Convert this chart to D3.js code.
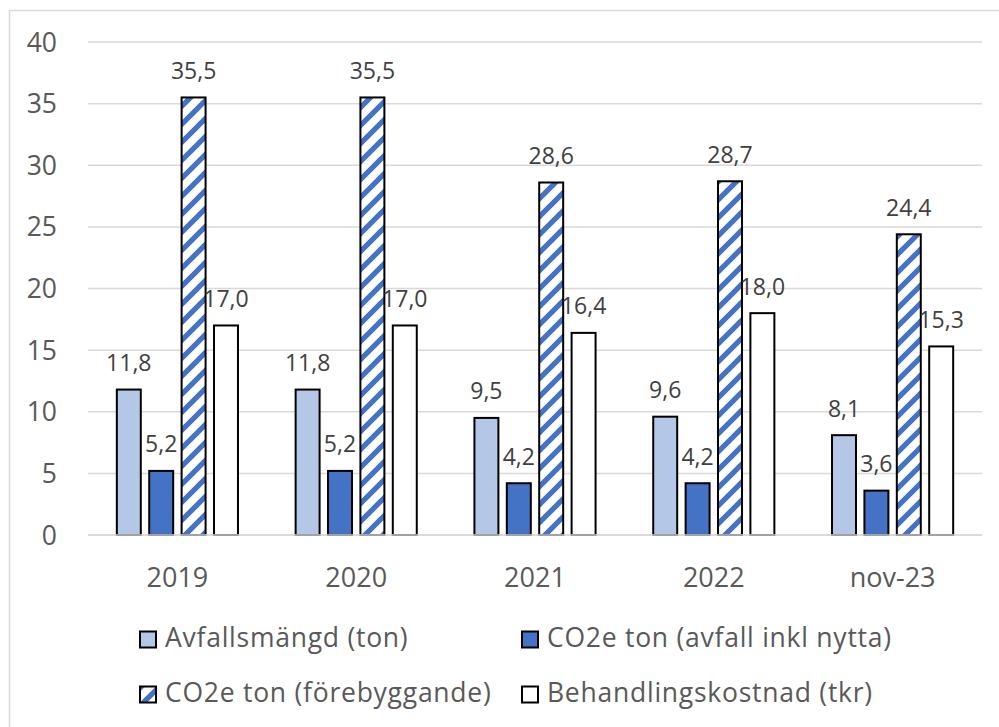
<!DOCTYPE html>
<html>
<head>
<meta charset="utf-8">
<script src="https://cdn.jsdelivr.net/npm/d3@7"></script>
<style>
  html, body { margin: 0; padding: 0; background: #fff; }
  svg { display: block; }
  text { font-family: "Open Sans", Lato, sans-serif; }
</style>
</head>
<body>
<div id="chart"></div>
<script>
const categories = ["2019", "2020", "2021", "2022", "nov-23"];
const seriesNames = ["Avfallsmängd (ton)", "CO2e ton (avfall inkl nytta)", "CO2e ton (förebyggande)", "Behandlingskostnad (tkr)"];
const avfallsmangd = [11.8, 11.8, 9.5, 9.6, 8.1];
const co2eAvfall = [5.2, 5.2, 4.2, 4.2, 3.6];
const co2eForebyggande = [35.5, 35.5, 28.6, 28.7, 24.4];
const behandlingskostnad = [17.0, 17.0, 16.4, 18.0, 15.3];
const yTicks = [0, 5, 10, 15, 20, 25, 30, 35, 40];

const seriesValues = [avfallsmangd, co2eAvfall, co2eForebyggande, behandlingskostnad];
const fills = ["#B4C7E7", "#4472C4", "url(#hatch)", "#FFFFFF"];

const W = 999, H = 727;
const svg = d3.select("#chart").append("svg").attr("width", W).attr("height", H);

const defs = svg.append("defs");
const pat = defs.append("pattern")
  .attr("id", "hatch").attr("patternUnits", "userSpaceOnUse")
  .attr("width", 18).attr("height", 18);
pat.append("rect").attr("width", 18).attr("height", 18).attr("fill", "#fff");
pat.append("path")
  .attr("d", "M-9,9 L9,-9 M0,18 L18,0 M9,27 L27,9")
  .attr("stroke", "#4472C4").attr("stroke-width", 5.2).attr("fill", "none");

// outer border
svg.append("rect").attr("x", 9.5).attr("y", 10.5).attr("width", W).attr("height", H)
  .attr("fill", "none").attr("stroke", "#d9d9d9").attr("stroke-width", 1.5);

const plotLeft = 88, plotRight = 982;
const y = d3.scaleLinear().domain([0, 40]).range([535, 42]);
const x0 = d3.scaleBand().domain(categories).range([plotLeft, plotRight]).paddingInner(0).paddingOuter(0);
const x1 = d3.scaleBand().domain(d3.range(seriesValues.length)).range([0, x0.bandwidth()])
  .paddingInner(0.26).paddingOuter(0.89);

// gridlines
svg.append("g").selectAll("line").data(yTicks).join("line")
  .attr("x1", plotLeft).attr("x2", plotRight)
  .attr("y1", d => y(d)).attr("y2", d => y(d))
  .attr("stroke", "#d9d9d9").attr("stroke-width", 1.5);

// y tick labels
svg.append("g").selectAll("text").data(yTicks).join("text")
  .attr("x", 57).attr("y", d => y(d)).attr("dy", "0.36em")
  .attr("text-anchor", "end").attr("font-size", 26.5).attr("fill", "#595959")
  .text(d => d);

// bars
const data = [];
categories.forEach((c, i) => seriesValues.forEach((s, j) => data.push({ c, j, v: s[i] })));

svg.append("g").selectAll("rect").data(data).join("rect")
  .attr("x", d => x0(d.c) + x1(d.j))
  .attr("width", x1.bandwidth())
  .attr("y", d => y(d.v))
  .attr("height", d => y(0) - y(d.v))
  .attr("fill", d => fills[d.j])
  .attr("stroke", "#000").attr("stroke-width", 2);

// data labels
const fmt = v => v.toFixed(1).replace(".", ",");
svg.append("g").selectAll("text").data(data).join("text")
  .attr("x", d => x0(d.c) + x1(d.j) + x1.bandwidth() / 2)
  .attr("y", d => y(d.v) - 18.5)
  .attr("text-anchor", "middle").attr("font-size", 23).attr("fill", "#404040")
  .text(d => fmt(d.v));

// x axis line
svg.append("line").attr("x1", plotLeft).attr("x2", plotRight)
  .attr("y1", y(0)).attr("y2", y(0)).attr("stroke", "#d9d9d9").attr("stroke-width", 1.5);

// category labels
svg.append("g").selectAll("text").data(categories).join("text")
  .attr("x", d => x0(d) + x0.bandwidth() / 2).attr("y", 587)
  .attr("text-anchor", "middle").attr("font-size", 27).attr("fill", "#595959")
  .text(d => d);

// legend
const legendPos = [
  { bx: 140, tx: 165, by: 631.5, ty: 647 },
  { bx: 522, tx: 547, by: 631.5, ty: 647 },
  { bx: 140, tx: 165, by: 686.5, ty: 702 },
  { bx: 522, tx: 547, by: 686.5, ty: 702 }
];
const leg = svg.append("g").selectAll("g").data(seriesNames).join("g");
leg.append("rect")
  .attr("x", (d, i) => legendPos[i].bx).attr("y", (d, i) => legendPos[i].by)
  .attr("width", 16).attr("height", 16)
  .attr("fill", (d, i) => fills[i]).attr("stroke", "#000").attr("stroke-width", 2);
leg.append("text")
  .attr("x", (d, i) => legendPos[i].tx).attr("y", (d, i) => legendPos[i].ty)
  .attr("font-size", 26.5).attr("letter-spacing", 0.75).attr("fill", "#595959")
  .text(d => d);
</script>
</body>
</html>
